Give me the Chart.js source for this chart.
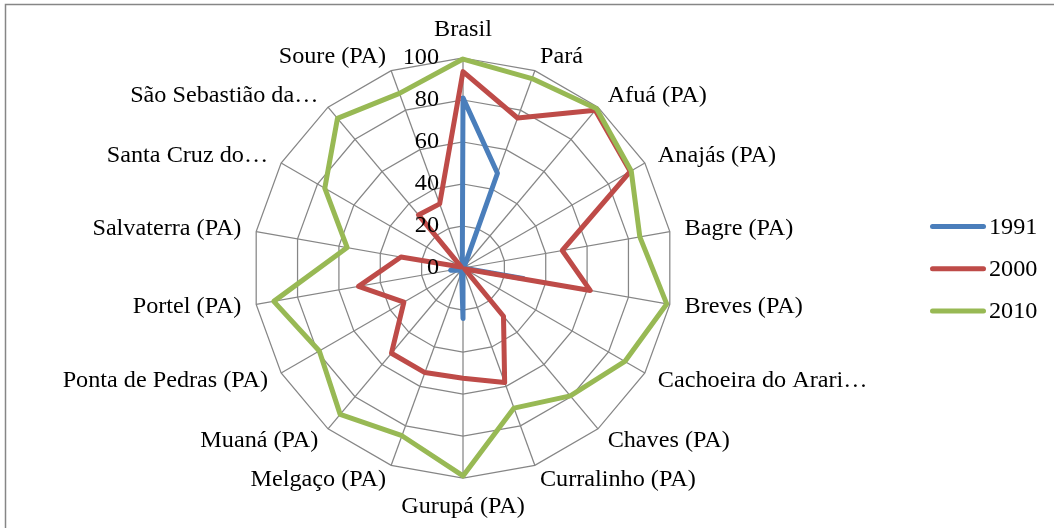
<!DOCTYPE html>
<html lang="pt-BR">
<head>
<meta charset="utf-8">
<title>Radar 1991 / 2000 / 2010</title>
<script src="https://cdn.jsdelivr.net/npm/chart.js@4/dist/chart.umd.min.js"></script>
<style>
  html, body { margin: 0; padding: 0; background: #ffffff; }
  #wrap { width: 1054px; height: 528px; position: relative; overflow: hidden; }
  canvas { display: block; }
</style>
</head>
<body>
<div id="wrap"><canvas id="radar" width="1054" height="528"></canvas></div>
<script>
// Municipalities (and the state / country references) around the radar
const categories = [
  'Brasil', 'Pará', 'Afuá (PA)', 'Anajás (PA)', 'Bagre (PA)', 'Breves (PA)',
  'Cachoeira do Arari…', 'Chaves (PA)', 'Curralinho (PA)', 'Gurupá (PA)',
  'Melgaço (PA)', 'Muaná (PA)', 'Ponta de Pedras (PA)', 'Portel (PA)',
  'Salvaterra (PA)', 'Santa Cruz do…', 'São Sebastião da…', 'Soure (PA)'
];

const seriesNames = ['1991', '2000', '2010'];

const values1991 = [81, 48, 1, 0, 0, 29, 0, 0, 0, 24, 2, 1, 2, 6, 3, 1, 1, 1];
const values2000 = [93.5, 76, 98, 92, 48, 61.5, 1, 30, 58, 52.5, 53, 53, 32.5, 50.5, 30, 1, 33, 32.5];
const values2010 = [99.5, 96, 99, 92.5, 85.5, 98.5, 89, 79.5, 71, 99, 85, 91, 79, 91.5, 56, 76, 93, 88.5];

const scaleMin = 0;
const scaleMax = 100;
const scaleStep = 20;

const seriesColors = ['#4A7EBB', '#BE4B48', '#98B954'];
const FONT = '23.5px "Liberation Serif", "Times New Roman", serif';
const TEXT_STRETCH = 1.03;

// draws one text string with a slight horizontal stretch
function stretchedText(ctx, text, x, y, align) {
  ctx.save();
  ctx.translate(x, y);
  ctx.scale(TEXT_STRETCH, 1);
  ctx.textAlign = align;
  ctx.fillText(text, 0, 0);
  ctx.restore();
}

// Frame, category labels, tick labels and legend drawn around the radar
const decorations = {
  id: 'decorations',
  beforeDraw(chart) {
    const ctx = chart.ctx;
    ctx.save();
    ctx.fillStyle = '#ffffff';
    ctx.fillRect(0, 0, chart.width, chart.height);
    ctx.strokeStyle = '#868686';
    ctx.lineWidth = 1.5;
    ctx.strokeRect(5.5, 4.5, chart.width + 20, chart.height + 20);
    ctx.restore();
  },
  afterDraw(chart) {
    const ctx = chart.ctx;
    const r = chart.scales.r;
    ctx.save();
    ctx.font = FONT;
    ctx.fillStyle = '#000000';
    ctx.textBaseline = 'middle';

    // category labels just outside the outer ring
    categories.forEach((label, i) => {
      const p = r.getPointPosition(i, r.drawingArea);
      const dx = (p.x - r.xCenter) / r.drawingArea;
      const dy = (p.y - r.yCenter) / r.drawingArea;
      const vertical = Math.abs(dx) < 0.01;
      const gap = vertical ? 28.5 : 15;
      const x = p.x + dx * gap;
      const y = p.y + dy * gap;
      stretchedText(ctx, label, x, y, vertical ? 'center' : (dx > 0 ? 'left' : 'right'));
    });

    // value ticks along the vertical axis
    r.ticks.forEach(t => {
      const y = r.yCenter - r.getDistanceFromCenterForValue(t.value);
      stretchedText(ctx, t.label, r.xCenter - 24, y, 'right');
    });

    // legend: line samples with series names
    chart.data.datasets.forEach((ds, i) => {
      const y = 226.5 + i * 42.2;
      ctx.beginPath();
      ctx.lineCap = 'round';
      ctx.lineWidth = 5;
      ctx.strokeStyle = ds.borderColor;
      ctx.moveTo(932.5, y);
      ctx.lineTo(983.5, y);
      ctx.stroke();
      stretchedText(ctx, ds.label, 989, y + 1, 'left');
    });
    ctx.restore();
  }
};

const seriesValues = [values1991, values2000, values2010];

new Chart(document.getElementById('radar'), {
  type: 'radar',
  data: {
    labels: categories,
    datasets: seriesNames.map((name, i) => ({
      label: name,
      data: seriesValues[i],
      borderColor: seriesColors[i],
      backgroundColor: seriesColors[i],
      borderWidth: 5,
      borderJoinStyle: 'round',
      borderCapStyle: 'round',
      fill: false,
      tension: 0,
      pointRadius: 0,
      pointHoverRadius: 0,
      order: seriesNames.length - i
    }))
  },
  options: {
    responsive: false,
    devicePixelRatio: 1,
    animation: false,
    layout: { padding: { left: 253, right: 381, top: 58, bottom: 50 } },
    plugins: {
      legend: { display: false },
      tooltip: { enabled: false }
    },
    scales: {
      r: {
        min: scaleMin,
        max: scaleMax,
        ticks: { display: false, stepSize: scaleStep },
        pointLabels: { display: false },
        grid: { color: '#868686', lineWidth: 1.25, circular: false },
        angleLines: { display: true, color: '#868686', lineWidth: 1.25 }
      }
    }
  },
  plugins: [decorations]
});
</script>
</body>
</html>
